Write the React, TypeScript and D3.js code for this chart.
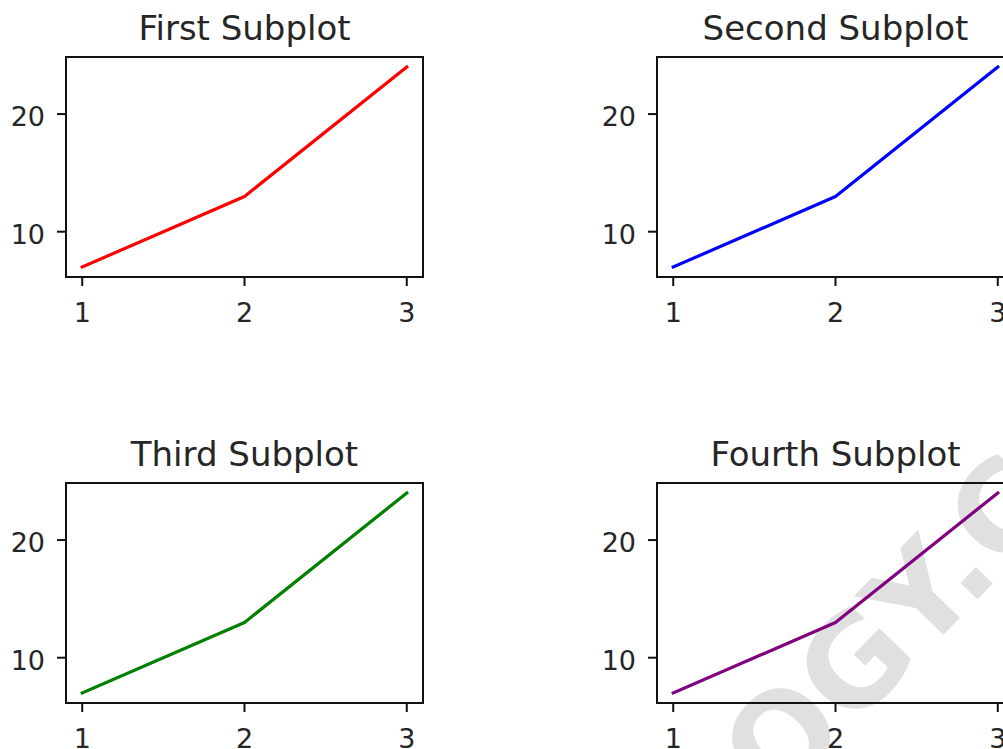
import React from "react";
import * as d3 from "d3";

const xValues = [1, 2, 3];
const yValues = [7, 13, 24];
const xTicks = [1, 2, 3];
const yTicks = [10, 20];
const titles = ["First Subplot", "Second Subplot", "Third Subplot", "Fourth Subplot"];
const colors = ["#ff0000", "#0000ff", "#008000", "#800080"];

const W = 1003;
const H = 749;
const AX_W = 357;
const AX_H = 220;
const lefts = [66, 657, 66, 657];
const tops = [57, 57, 483, 483];
const FONT = "'DejaVu Sans', sans-serif";
const TEXT = "#262626";

function Subplot({ i }: { i: number }) {
  const left = lefts[i];
  const top = tops[i];
  const xmin = d3.min(xValues)!;
  const xmax = d3.max(xValues)!;
  const ymin = d3.min(yValues)!;
  const ymax = d3.max(yValues)!;
  const xm = (xmax - xmin) * 0.05;
  const ym = (ymax - ymin) * 0.05;
  const x = d3.scaleLinear().domain([xmin - xm, xmax + xm]).range([0, AX_W]);
  const y = d3.scaleLinear().domain([ymin - ym, ymax + ym]).range([AX_H, 0]);
  const line = d3
    .line<number>()
    .x((_, k) => x(xValues[k]))
    .y((d) => y(d));
  return (
    <g transform={`translate(${left},${top})`}>
      <text
        x={AX_W / 2}
        y={-17}
        textAnchor="middle"
        fontFamily={FONT}
        fontSize={34}
        fill={TEXT}
      >
        {titles[i]}
      </text>
      <path d={line(yValues) || ""} fill="none" stroke={colors[i]} strokeWidth={3.2} strokeLinejoin="round" strokeLinecap="square" />
      <rect x={0} y={0} width={AX_W} height={AX_H} fill="none" stroke="#111" strokeWidth={2} />
      {yTicks.map((t) => (
        <g key={"y" + t}>
          <line x1={-9} x2={0} y1={y(t)} y2={y(t)} stroke="#111" strokeWidth={2} />
          <text
            x={-21}
            y={y(t) + 12}
            textAnchor="end"
            fontFamily={FONT}
            fontSize={27}
            fill={TEXT}
          >
            {t}
          </text>
        </g>
      ))}
      {xTicks.map((t) => (
        <g key={"x" + t}>
          <line x1={x(t)} x2={x(t)} y1={AX_H} y2={AX_H + 9} stroke="#111" strokeWidth={2} />
          <text
            x={x(t)}
            y={AX_H + 45}
            textAnchor="middle"
            fontFamily={FONT}
            fontSize={27}
            fill={TEXT}
          >
            {t}
          </text>
        </g>
      ))}
    </g>
  );
}

export default function App() {
  return (
    <svg
      width={W}
      height={H}
      viewBox={`0 0 ${W} ${H}`}
      style={{ position: "absolute", left: 0, top: 0, background: "#fff" }}
    >
      <rect x={0} y={0} width={W} height={H} fill="#fff" />
      <text
        transform="translate(777,807) rotate(-46)"
        fontFamily={FONT}
        fontWeight="bold"
        fontSize={125}
        fill="#e0e0e0"
      >
        OGY.C
      </text>
      {titles.map((_, i) => (
        <Subplot key={i} i={i} />
      ))}
    </svg>
  );
}
